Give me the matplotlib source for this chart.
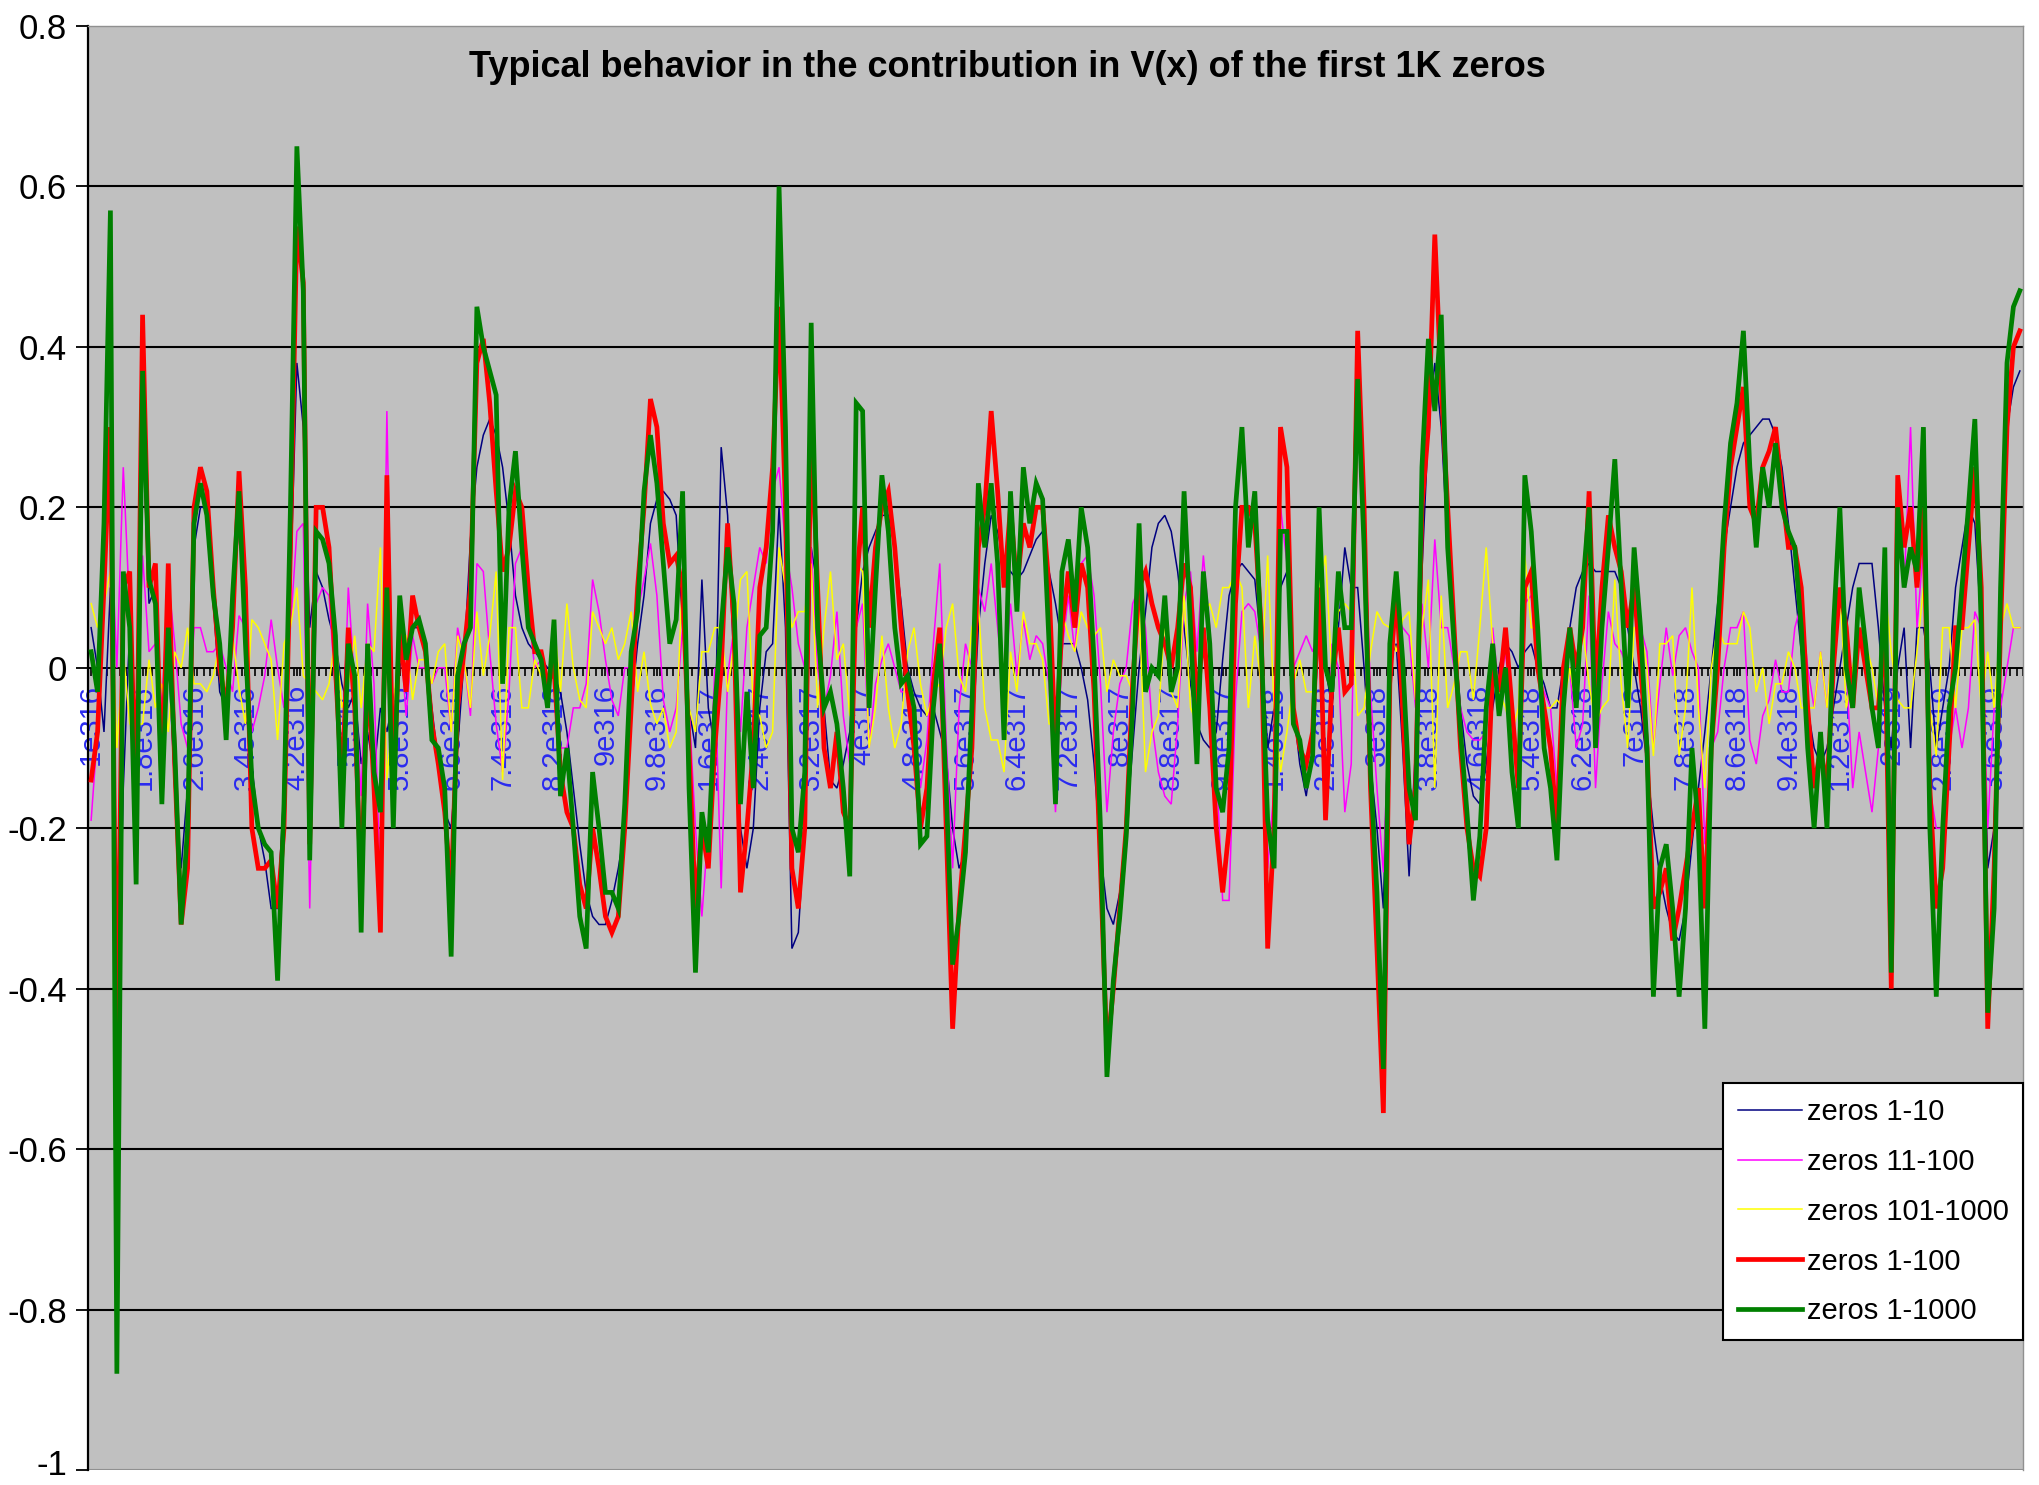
import matplotlib
matplotlib.use("Agg")
import matplotlib.pyplot as plt
from matplotlib import font_manager
from matplotlib.transforms import ScaledTranslation
import numpy as np

# values, one per category (301 categories, 1e316 ... 4e319)
zeros_1_10 = [
    0.05, 0.00, -0.08, 0.10, -0.50, -0.15, 0.05, -0.12, 0.30, 0.08,
    0.10, -0.10, 0.02, -0.15, -0.25, -0.15, 0.15, 0.20, 0.20, 0.08,
    -0.03, -0.05, 0.08, 0.18, 0.05, -0.12, -0.20, -0.24, -0.30, -0.30,
    -0.15, 0.10, 0.38, 0.30, 0.05, 0.12, 0.10, 0.06, 0.03, -0.02,
    -0.05, -0.03, -0.12, -0.08, -0.13, -0.05, -0.08, -0.04, 0.00, 0.03,
    0.05, 0.05, 0.02, -0.05, -0.12, -0.18, -0.20, -0.10, 0.01, 0.16,
    0.25, 0.29, 0.31, 0.29, 0.25, 0.18, 0.09, 0.05, 0.03, 0.02,
    0.01, 0.00, -0.01, -0.03, -0.08, -0.15, -0.22, -0.28, -0.31, -0.32,
    -0.32, -0.29, -0.25, -0.20, -0.05, 0.03, 0.09, 0.18, 0.21, 0.22,
    0.21, 0.19, 0.05, -0.05, -0.10, 0.11, -0.05, -0.10, 0.275, 0.19,
    0.00, -0.20, -0.25, -0.20, -0.05, 0.02, 0.03, 0.20, 0.05, -0.35,
    -0.33, -0.20, 0.15, 0.10, -0.05, -0.14, -0.15, -0.12, -0.08, 0.05,
    0.12, 0.15, 0.17, 0.19, 0.19, 0.15, 0.08, 0.00, -0.03, -0.05,
    -0.06, -0.05, -0.08, -0.11, -0.20, -0.25, -0.23, -0.10, 0.05, 0.13,
    0.19, 0.17, 0.13, 0.12, 0.11, 0.12, 0.14, 0.16, 0.17, 0.12,
    0.08, 0.03, 0.03, 0.03, 0.00, -0.04, -0.12, -0.23, -0.30, -0.32,
    -0.28, -0.20, -0.10, 0.00, 0.07, 0.15, 0.18, 0.19, 0.17, 0.12,
    0.05, -0.02, -0.07, -0.09, -0.10, -0.08, 0.01, 0.09, 0.12, 0.13,
    0.12, 0.11, 0.03, -0.10, -0.05, 0.10, 0.12, -0.05, -0.12, -0.16,
    -0.10, 0.05, 0.00, -0.05, 0.05, 0.15, 0.10, 0.10, 0.00, -0.12,
    -0.20, -0.30, 0.01, 0.03, -0.10, -0.26, -0.10, 0.12, 0.30, 0.38,
    0.30, 0.15, 0.05, -0.05, -0.12, -0.16, -0.17, -0.12, -0.05, 0.00,
    0.03, 0.02, 0.00, 0.02, 0.03, 0.00, -0.02, -0.05, -0.05, 0.00,
    0.05, 0.10, 0.12, 0.13, 0.12, 0.12, 0.12, 0.12, 0.10, 0.05,
    0.00, -0.05, -0.12, -0.20, -0.26, -0.30, -0.33, -0.34, -0.30, -0.22,
    -0.15, -0.08, 0.00, 0.08, 0.15, 0.20, 0.25, 0.28, 0.29, 0.30,
    0.31, 0.31, 0.29, 0.25, 0.18, 0.10, 0.02, -0.05, -0.10, -0.12,
    -0.10, -0.05, 0.00, 0.05, 0.10, 0.13, 0.13, 0.13, 0.05, -0.05,
    -0.10, 0.00, 0.05, -0.10, 0.05, 0.05, 0.00, -0.10, -0.05, 0.00,
    0.10, 0.15, 0.20, 0.18, 0.05, -0.25, -0.20, 0.10, 0.30, 0.35, 0.37,
]

zeros_11_100 = [
    -0.19, -0.08, 0.18, 0.20, 0.00, 0.25, 0.07, -0.08, 0.14, 0.02,
    0.03, -0.05, 0.11, 0.03, -0.07, -0.10, 0.05, 0.05, 0.02, 0.02,
    0.03, 0.00, -0.03, 0.065, 0.05, -0.08, -0.05, -0.01, 0.06, 0.00,
    -0.05, 0.05, 0.17, 0.18, -0.30, 0.08, 0.10, 0.09, -0.03, -0.13,
    0.10, -0.02, -0.16, 0.08, -0.02, -0.28, 0.32, -0.11, 0.05, -0.06,
    0.04, 0.00, 0.00, -0.02, 0.00, 0.00, -0.08, 0.05, 0.01, -0.06,
    0.13, 0.12, 0.02, -0.07, -0.13, -0.03, 0.13, 0.15, 0.07, 0.00,
    0.01, -0.02, 0.01, -0.10, -0.10, -0.05, -0.05, -0.02, 0.11, 0.07,
    0.01, -0.04, -0.06, 0.00, 0.00, 0.07, 0.11, 0.155, 0.09, -0.04,
    -0.08, -0.05, 0.05, -0.05, -0.20, -0.31, -0.20, 0.00, -0.275, -0.01,
    0.05, -0.08, 0.05, 0.10, 0.15, 0.13, 0.22, 0.25, 0.15, 0.10,
    0.03, 0.00, 0.15, 0.00, -0.05, -0.01, 0.07, -0.06, -0.12, 0.05,
    0.08, -0.10, -0.02, 0.01, 0.03, 0.00, -0.03, -0.03, -0.07, -0.15,
    -0.09, 0.03, 0.13, -0.09, -0.25, -0.05, 0.03, 0.00, 0.10, 0.07,
    0.13, 0.05, -0.03, 0.08, -0.01, 0.06, 0.01, 0.04, 0.03, -0.02,
    -0.18, 0.02, 0.09, 0.02, 0.13, 0.14, 0.09, -0.02, -0.18, -0.08,
    -0.02, 0.00, 0.08, 0.10, 0.05, -0.07, -0.13, -0.16, -0.17, -0.07,
    0.08, 0.12, 0.02, 0.14, 0.05, -0.12, -0.29, -0.29, -0.04, 0.07,
    0.08, 0.07, 0.02, -0.25, -0.15, 0.20, 0.13, 0.00, 0.02, 0.04,
    0.02, 0.05, -0.19, 0.03, 0.00, -0.18, -0.12, 0.32, 0.20, -0.03,
    -0.15, -0.255, -0.03, 0.07, 0.05, 0.04, -0.05, 0.08, 0.00, 0.16,
    0.05, 0.05, 0.00, -0.05, -0.08, -0.09, -0.09, -0.08, 0.05, -0.03,
    0.02, -0.07, -0.15, 0.08, 0.09, 0.00, -0.03, -0.05, -0.15, 0.00,
    0.00, -0.10, -0.07, 0.09, -0.15, -0.02, 0.07, 0.03, 0.02, 0.00,
    0.10, 0.05, 0.02, -0.10, -0.02, 0.05, -0.01, 0.04, 0.05, 0.02,
    0.00, -0.22, -0.10, -0.08, 0.00, 0.05, 0.05, 0.07, -0.09, -0.12,
    -0.06, -0.04, 0.01, -0.03, -0.03, 0.05, 0.08, 0.00, -0.05, 0.02,
    -0.05, 0.05, 0.10, 0.00, -0.15, -0.08, -0.13, -0.18, -0.10, 0.10,
    -0.30, 0.24, 0.10, 0.30, 0.05, 0.15, -0.15, -0.20, -0.20, -0.10,
    -0.05, -0.10, -0.05, 0.07, 0.05, -0.20, -0.05, -0.05, 0.00, 0.05, 0.05,
]

zeros_101_1000 = [
    0.08, 0.05, 0.08, 0.12, -0.10, 0.02, -0.07, -0.07, -0.07, 0.01,
    -0.05, -0.02, -0.08, 0.02, 0.00, 0.05, -0.02, -0.02, -0.03, -0.01,
    0.03, -0.04, 0.04, -0.025, -0.07, 0.06, 0.05, 0.03, 0.01, -0.09,
    0.03, 0.05, 0.10, -0.01, -0.02, -0.03, -0.04, -0.02, 0.04, -0.05,
    -0.02, 0.04, -0.05, 0.03, 0.02, 0.15, -0.14, -0.05, 0.04, 0.04,
    -0.04, 0.01, 0.01, -0.02, 0.02, 0.03, -0.08, 0.04, 0.01, -0.05,
    0.07, -0.01, 0.04, 0.12, -0.14, 0.05, 0.05, -0.05, -0.05, 0.01,
    -0.01, -0.03, 0.06, -0.03, 0.08, 0.00, -0.04, -0.05, 0.07, 0.05,
    0.03, 0.05, 0.01, 0.03, 0.07, -0.03, 0.02, -0.045, -0.07, -0.05,
    -0.10, -0.08, 0.12, -0.05, -0.08, 0.02, 0.02, 0.05, 0.05, -0.03,
    0.03, 0.11, 0.12, -0.05, -0.06, -0.10, -0.08, 0.15, 0.10, 0.05,
    0.07, 0.07, 0.13, -0.05, 0.05, 0.12, 0.01, 0.03, -0.06, 0.13,
    0.12, -0.10, -0.05, 0.04, -0.05, -0.10, -0.07, 0.02, 0.05, -0.02,
    -0.06, -0.03, -0.02, 0.05, 0.08, -0.01, -0.03, 0.05, 0.08, -0.05,
    -0.09, -0.09, -0.13, 0.02, -0.03, 0.07, 0.03, 0.03, 0.01, -0.07,
    -0.07, 0.07, 0.04, 0.02, 0.07, 0.05, 0.04, 0.05, -0.03, 0.01,
    -0.01, -0.01, -0.03, 0.08, -0.13, -0.08, -0.06, 0.06, -0.03, -0.05,
    0.09, -0.05, -0.07, 0.07, 0.08, 0.05, 0.10, 0.10, 0.12, 0.10,
    -0.05, 0.04, -0.02, 0.14, -0.05, -0.13, -0.08, -0.02, 0.01, -0.03,
    -0.03, 0.10, 0.14, -0.01, 0.07, 0.08, 0.07, -0.06, -0.05, 0.02,
    0.07, 0.055, 0.05, 0.02, 0.06, 0.07, -0.04, 0.05, 0.11, -0.15,
    0.09, -0.05, -0.02, 0.02, 0.02, -0.04, 0.05, 0.15, 0.03, -0.03,
    -0.05, -0.08, -0.05, 0.14, 0.05, 0.05, -0.05, -0.05, -0.04, -0.05,
    0.00, -0.05, 0.05, -0.02, -0.07, -0.05, -0.04, 0.11, -0.02, -0.10,
    0.05, 0.05, 0.00, -0.11, 0.03, 0.03, 0.04, -0.11, -0.05, 0.10,
    -0.05, -0.15, 0.00, 0.05, 0.03, 0.03, 0.03, 0.07, 0.05, -0.03,
    0.00, -0.07, -0.02, -0.02, 0.02, 0.00, -0.05, -0.05, -0.05, 0.02,
    -0.05, 0.05, 0.10, -0.05, 0.00, 0.05, 0.03, 0.00, -0.05, 0.10,
    0.02, -0.04, -0.05, -0.05, 0.02, 0.10, -0.05, -0.11, 0.05, 0.05,
    -0.05, 0.05, 0.05, 0.06, -0.05, 0.02, -0.05, 0.05, 0.08, 0.05, 0.05,
]

zeros_1_100 = [
    -0.14, -0.08, 0.10, 0.30, -0.50, 0.10, 0.12, -0.20, 0.44, 0.10,
    0.13, -0.15, 0.13, -0.12, -0.32, -0.25, 0.20, 0.25, 0.22, 0.10,
    0.00, -0.05, 0.05, 0.245, 0.10, -0.20, -0.25, -0.25, -0.24, -0.30,
    -0.20, 0.15, 0.55, 0.48, -0.22, 0.20, 0.20, 0.15, 0.00, -0.15,
    0.05, -0.05, -0.28, 0.00, -0.15, -0.33, 0.24, -0.15, 0.05, -0.03,
    0.09, 0.05, 0.02, -0.07, -0.12, -0.18, -0.28, -0.05, 0.02, 0.10,
    0.38, 0.41, 0.33, 0.22, 0.12, 0.15, 0.22, 0.20, 0.10, 0.02,
    0.02, -0.02, 0.00, -0.13, -0.18, -0.20, -0.27, -0.30, -0.20, -0.25,
    -0.31, -0.33, -0.31, -0.20, -0.05, 0.10, 0.20, 0.335, 0.30, 0.18,
    0.13, 0.14, 0.10, -0.10, -0.30, -0.20, -0.25, -0.10, 0.00, 0.18,
    0.05, -0.28, -0.20, -0.10, 0.10, 0.15, 0.25, 0.45, 0.20, -0.25,
    -0.30, -0.20, 0.30, 0.10, -0.10, -0.15, -0.08, -0.18, -0.20, 0.10,
    0.20, 0.05, 0.15, 0.20, 0.22, 0.15, 0.05, -0.03, -0.10, -0.20,
    -0.15, -0.02, 0.05, -0.20, -0.45, -0.30, -0.20, -0.10, 0.15, 0.20,
    0.32, 0.22, 0.10, 0.20, 0.10, 0.18, 0.15, 0.20, 0.20, 0.10,
    -0.10, 0.05, 0.12, 0.05, 0.13, 0.10, -0.03, -0.25, -0.48, -0.40,
    -0.30, -0.20, -0.02, 0.10, 0.12, 0.08, 0.05, 0.03, 0.00, 0.05,
    0.13, 0.10, -0.05, 0.05, -0.05, -0.20, -0.28, -0.20, 0.08, 0.20,
    0.20, 0.18, 0.05, -0.35, -0.20, 0.30, 0.25, -0.05, -0.10, -0.12,
    -0.08, 0.10, -0.19, -0.02, 0.05, -0.03, -0.02, 0.42, 0.20, -0.15,
    -0.35, -0.555, -0.02, 0.10, -0.05, -0.22, -0.15, 0.20, 0.30, 0.54,
    0.35, 0.20, 0.05, -0.10, -0.20, -0.25, -0.26, -0.20, 0.00, -0.03,
    0.05, -0.05, -0.15, 0.10, 0.12, 0.00, -0.05, -0.10, -0.20, 0.00,
    0.05, 0.00, 0.05, 0.22, -0.03, 0.10, 0.19, 0.15, 0.12, 0.05,
    0.10, 0.00, -0.10, -0.30, -0.28, -0.25, -0.34, -0.30, -0.25, -0.20,
    -0.15, -0.30, -0.10, 0.00, 0.15, 0.25, 0.30, 0.35, 0.20, 0.18,
    0.25, 0.27, 0.30, 0.22, 0.15, 0.15, 0.10, -0.05, -0.15, -0.10,
    -0.15, 0.00, 0.10, 0.05, -0.05, 0.05, 0.00, -0.05, -0.05, 0.05,
    -0.40, 0.24, 0.15, 0.20, 0.10, 0.20, -0.15, -0.30, -0.25, -0.10,
    0.05, 0.05, 0.15, 0.25, 0.10, -0.45, -0.25, 0.05, 0.30, 0.40, 0.42,
]

zeros_1_1000 = [
    0.02, -0.03, 0.18, 0.57, -0.88, 0.12, 0.05, -0.27, 0.37, 0.11,
    0.08, -0.17, 0.05, -0.10, -0.32, -0.20, 0.18, 0.23, 0.19, 0.09,
    0.03, -0.09, 0.09, 0.22, 0.03, -0.14, -0.20, -0.22, -0.23, -0.39,
    -0.17, 0.20, 0.65, 0.47, -0.24, 0.17, 0.16, 0.13, 0.04, -0.20,
    0.03, -0.01, -0.33, 0.03, -0.13, -0.18, 0.10, -0.20, 0.09, 0.01,
    0.05, 0.06, 0.03, -0.09, -0.10, -0.15, -0.36, -0.01, 0.03, 0.05,
    0.45, 0.40, 0.37, 0.34, -0.02, 0.20, 0.27, 0.15, 0.05, 0.03,
    0.01, -0.05, 0.06, -0.16, -0.10, -0.20, -0.31, -0.35, -0.13, -0.20,
    -0.28, -0.28, -0.30, -0.17, 0.02, 0.07, 0.22, 0.29, 0.23, 0.13,
    0.03, 0.06, 0.22, -0.15, -0.38, -0.18, -0.23, -0.05, 0.05, 0.15,
    0.08, -0.17, -0.03, -0.15, 0.04, 0.05, 0.17, 0.60, 0.30, -0.20,
    -0.23, -0.13, 0.43, 0.05, -0.05, -0.03, -0.07, -0.15, -0.26, 0.33,
    0.32, -0.05, 0.10, 0.24, 0.17, 0.05, -0.02, -0.01, -0.05, -0.22,
    -0.21, -0.05, 0.03, -0.15, -0.37, -0.31, -0.23, -0.05, 0.23, 0.15,
    0.23, 0.13, -0.09, 0.22, 0.07, 0.25, 0.18, 0.23, 0.21, 0.03,
    -0.17, 0.12, 0.16, 0.07, 0.20, 0.15, 0.01, -0.20, -0.51, -0.39,
    -0.31, -0.21, -0.05, 0.18, -0.03, 0.00, -0.01, 0.09, -0.03, 0.00,
    0.22, 0.05, -0.12, 0.12, 0.03, -0.15, -0.18, -0.10, 0.20, 0.30,
    0.15, 0.22, 0.03, -0.19, -0.25, 0.17, 0.17, -0.07, -0.09, -0.15,
    -0.11, 0.20, 0.00, -0.03, 0.12, 0.05, 0.05, 0.36, 0.15, -0.13,
    -0.28, -0.50, 0.03, 0.12, 0.01, -0.15, -0.19, 0.25, 0.41, 0.32,
    0.44, 0.15, 0.03, -0.08, -0.18, -0.29, -0.21, -0.05, 0.03, -0.06,
    0.00, -0.13, -0.20, 0.24, 0.17, 0.05, -0.10, -0.15, -0.24, -0.05,
    0.05, -0.05, 0.10, 0.20, -0.10, 0.05, 0.15, 0.26, 0.10, -0.05,
    0.15, 0.05, -0.10, -0.41, -0.25, -0.22, -0.30, -0.41, -0.30, -0.10,
    -0.20, -0.45, -0.10, 0.05, 0.18, 0.28, 0.33, 0.42, 0.25, 0.15,
    0.25, 0.20, 0.28, 0.20, 0.17, 0.15, 0.05, -0.10, -0.20, -0.08,
    -0.20, 0.05, 0.20, 0.00, -0.05, 0.10, 0.03, -0.05, -0.10, 0.15,
    -0.38, 0.20, 0.10, 0.15, 0.12, 0.30, -0.20, -0.41, -0.20, -0.05,
    0.00, 0.10, 0.20, 0.31, 0.05, -0.43, -0.30, 0.10, 0.38, 0.45, 0.47,
]

# every 8th category is labelled on the axis
tick_labels = ['1e316', '1.8e316', '2.6e316', '3.4e316', '4.2e316', '5e316',
               '5.8e316', '6.6e316', '7.4e316', '8.2e316', '9e316', '9.8e316',
               '1.6e317', '2.4e317', '3.2e317', '4e317', '4.8e317', '5.6e317',
               '6.4e317', '7.2e317', '8e317', '8.8e317', '9.6e317', '1.4e318',
               '2.2e318', '3e318', '3.8e318', '4.6e318', '5.4e318', '6.2e318',
               '7e318', '7.8e318', '8.6e318', '9.4e318', '1.2e319', '2e319',
               '2.8e319', '3.6e319']

series = [
    ('zeros 1-10', zeros_1_10, '#000080', 1.1),
    ('zeros 11-100', zeros_11_100, '#FF00FF', 1.1),
    ('zeros 101-1000', zeros_101_1000, '#FFFF00', 1.1),
    ('zeros 1-100', zeros_1_100, '#FF0000', 3.4),
    ('zeros 1-1000', zeros_1_1000, '#008000', 3.4),
]

names = {f.name for f in font_manager.fontManager.ttflist}
font = 'Liberation Sans Narrow' if 'Liberation Sans Narrow' in names else 'Liberation Sans'
plt.rcParams['font.family'] = font

fig = plt.figure(figsize=(20.4, 14.85), dpi=100)
ax = fig.add_axes([0.0431, 0.0101, 0.9486, 0.9724])
ax.set_facecolor('#C0C0C0')

for label, vals, col, lw in series:
    ax.plot(np.arange(len(vals)), vals, color=col, lw=lw, label=label,
            solid_joinstyle='miter', zorder=3)

n = len(zeros_1_1000)
ax.set_xlim(-0.5, n - 0.5)
ax.set_ylim(-1, 0.8)

yt = np.round(np.arange(-1, 0.81, 0.2), 1)
ax.set_yticks(yt)
ax.set_yticklabels(['0' if v == 0 else ('%g' % v) for v in yt], fontsize=25)
for v in yt[1:-1]:
    if v != 0:
        ax.axhline(v, color='black', lw=1.5, zorder=1)
ax.tick_params(axis='y', length=9, width=1.3, direction='out', pad=6)
# the bottom label sits a touch higher so it stays inside the picture
bottom_lab = ax.get_yticklabels()[0]
bottom_lab.set_transform(bottom_lab.get_transform() +
                         ScaledTranslation(0, 6 / 72, fig.dpi_scale_trans))

ax.spines['bottom'].set_position(('data', 0))
ax.spines['bottom'].set_linewidth(1.4)
ax.spines['bottom'].set_zorder(2)
ax.spines['left'].set_linewidth(1.6)
for s in ('top', 'right'):
    ax.spines[s].set_color('#909090')
    ax.spines[s].set_linewidth(1.0)
ax.axhline(-1, color='#909090', lw=1.5, zorder=1)

ax.set_xticks(np.arange(0, n, 8))
ax.set_xticklabels(tick_labels, rotation=90, fontsize=21, color='#2a2aF0')
ax.set_xticks(np.arange(0, n) + 0.5, minor=True)
ax.tick_params(axis='x', which='major', length=6, width=1.2, pad=6)
ax.tick_params(axis='x', which='minor', length=6, width=1.2)

ax.text(0.475, 0.971, 'Typical behavior in the contribution in V(x) of the first 1K zeros',
        transform=ax.transAxes, ha='center', va='center', fontsize=26,
        fontweight='bold', color='black', zorder=5)

leg = ax.legend(loc='lower right', bbox_to_anchor=(1.0, 0.09), borderaxespad=0,
                fontsize=21, frameon=True, fancybox=False, framealpha=1,
                edgecolor='black', handlelength=2.2, handletextpad=0.15,
                labelspacing=0.75, borderpad=0.5)
leg.get_frame().set_linewidth(1.5)
leg.set_zorder(6)

fig.savefig('out.png', dpi=100, facecolor='white')
